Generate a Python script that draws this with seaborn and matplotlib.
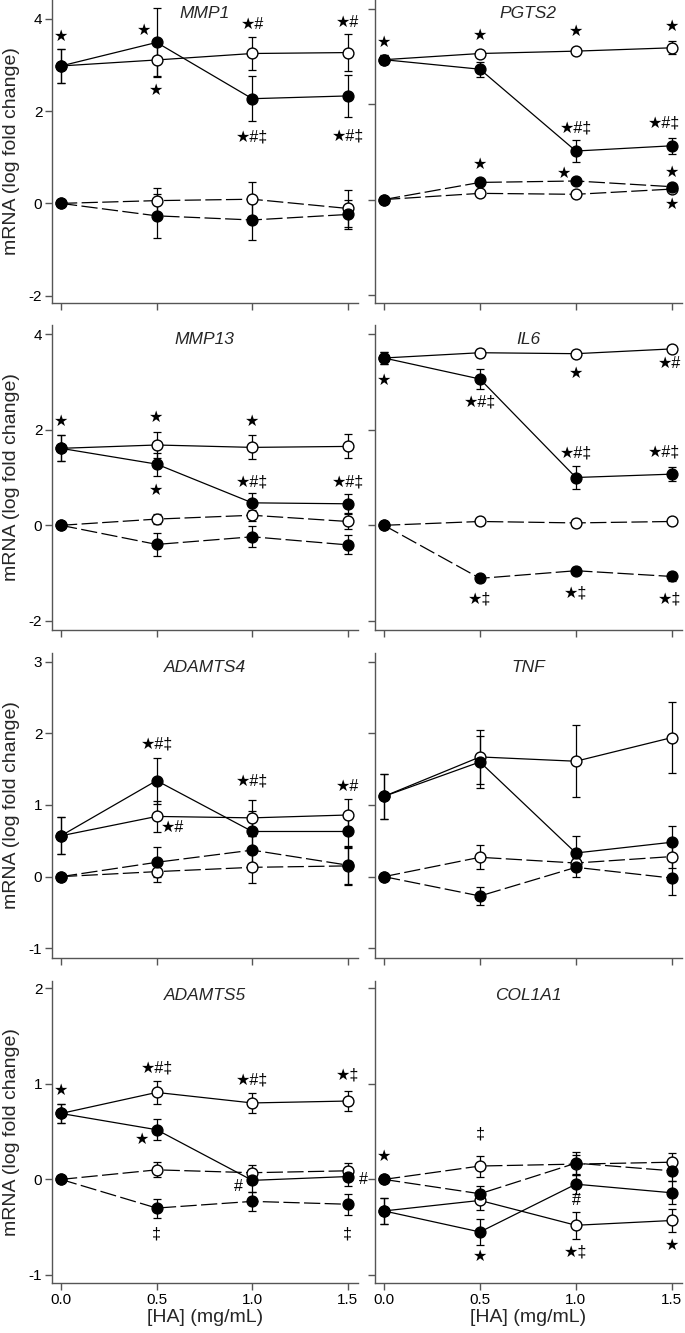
import matplotlib
matplotlib.use('Agg')
import pandas as pd
import seaborn as sns
import matplotlib.pyplot as plt

# HA concentrations (mg/mL)
ha_conc = [0.0, 0.5, 1.0, 1.5]
genes = ['MMP1', 'PGTS2', 'MMP13', 'IL6', 'ADAMTS4', 'TNF', 'ADAMTS5', 'COL1A1']
# series order in every array below: solid/filled, solid/open, dashed/filled, dashed/open
series = ['solid_filled', 'solid_open', 'dashed_filled', 'dashed_open']

mmp1_mean = [[2.98, 3.49, 2.27, 2.33], [2.98, 3.11, 3.25, 3.27],
             [0.0, -0.27, -0.36, -0.24], [0.0, 0.06, 0.09, -0.11]]
mmp1_err = [[0.36, 0.75, 0.49, 0.45], [0.36, 0.35, 0.35, 0.40],
            [0.0, 0.48, 0.44, 0.32], [0.0, 0.28, 0.37, 0.40]]

pgts2_mean = [[2.94, 2.74, 1.02, 1.13], [2.94, 3.07, 3.12, 3.19],
              [0.0, 0.36, 0.39, 0.27], [0.0, 0.13, 0.11, 0.22]]
pgts2_err = [[0.10, 0.16, 0.24, 0.17], [0.10, 0.05, 0.05, 0.14],
             [0.0, 0.07, 0.05, 0.05], [0.0, 0.05, 0.04, 0.05]]

mmp13_mean = [[1.61, 1.28, 0.47, 0.45], [1.61, 1.68, 1.63, 1.65],
              [0.0, -0.40, -0.24, -0.41], [0.0, 0.13, 0.21, 0.08]]
mmp13_err = [[0.27, 0.24, 0.20, 0.20], [0.27, 0.28, 0.25, 0.25],
             [0.0, 0.24, 0.22, 0.20], [0.0, 0.10, 0.12, 0.15]]

il6_mean = [[3.50, 3.06, 1.00, 1.07], [3.50, 3.61, 3.59, 3.69],
            [0.0, -1.11, -0.95, -1.07], [0.0, 0.08, 0.05, 0.08]]
il6_err = [[0.13, 0.20, 0.25, 0.14], [0.13, 0.08, 0.07, 0.06],
           [0.0, 0.08, 0.07, 0.10], [0.0, 0.07, 0.08, 0.04]]

adamts4_mean = [[0.57, 1.34, 0.63, 0.63], [0.57, 0.84, 0.82, 0.86],
                [0.0, 0.20, 0.37, 0.16], [0.0, 0.07, 0.13, 0.15]]
adamts4_err = [[0.26, 0.32, 0.28, 0.22], [0.26, 0.22, 0.25, 0.22],
               [0.0, 0.21, 0.20, 0.27], [0.0, 0.15, 0.22, 0.25]]

tnf_mean = [[1.12, 1.60, 0.33, 0.48], [1.12, 1.67, 1.61, 1.94],
            [0.0, -0.27, 0.13, -0.02], [0.0, 0.27, 0.19, 0.28]]
tnf_err = [[0.31, 0.36, 0.24, 0.23], [0.31, 0.38, 0.50, 0.50],
           [0.0, 0.12, 0.13, 0.24], [0.0, 0.17, 0.08, 0.16]]

adamts5_mean = [[0.69, 0.52, -0.01, 0.03], [0.69, 0.91, 0.80, 0.82],
                [0.0, -0.30, -0.23, -0.26], [0.0, 0.10, 0.07, 0.09]]
adamts5_err = [[0.10, 0.11, 0.12, 0.10], [0.10, 0.12, 0.10, 0.10],
               [0.0, 0.10, 0.10, 0.11], [0.0, 0.08, 0.08, 0.08]]

col1a1_mean = [[-0.33, -0.55, -0.05, -0.14], [-0.33, -0.22, -0.48, -0.43],
               [0.0, -0.15, 0.17, 0.09], [0.0, 0.14, 0.16, 0.18]]
col1a1_err = [[0.14, 0.14, 0.10, 0.12], [0.14, 0.10, 0.14, 0.12],
              [0.0, 0.08, 0.12, 0.11], [0.0, 0.11, 0.10, 0.10]]

# significance marks: (HA, value, text)
marks = {
    'MMP1': [(0.0, 3.62, '★'), (0.435, 3.75, '★'), (0.5, 2.46, '★'), (1.0, 3.89, '★#'),
             (1.0, 1.45, '★#‡'), (1.5, 3.92, '★#'), (1.5, 1.46, '★#‡')],
    'PGTS2': [(0.0, 3.31, '★'), (0.5, 3.45, '★'), (1.0, 3.54, '★'), (1.5, 3.64, '★'),
              (1.0, 1.51, '★#‡'), (1.46, 1.61, '★#‡'), (0.5, 0.74, '★'), (0.94, 0.55, '★'),
              (1.5, 0.56, '★'), (1.5, -0.10, '★')],
    'MMP13': [(0.0, 2.17, '★'), (0.5, 2.26, '★'), (0.5, 0.73, '★'), (1.0, 2.18, '★'),
              (1.0, 0.90, '★#‡'), (1.5, 0.90, '★#‡')],
    'IL6': [(0.0, 3.03, '★'), (0.5, 2.58, '★#‡'), (1.0, 3.18, '★'), (1.49, 3.38, '★#'),
            (1.0, 1.51, '★#‡'), (1.46, 1.53, '★#‡'), (0.5, -1.54, '★‡'), (1.0, -1.42, '★‡'),
            (1.49, -1.54, '★‡')],
    'ADAMTS4': [(0.5, 1.85, '★#‡'), (0.585, 0.69, '★#'), (1.0, 1.34, '★#‡'), (1.5, 1.26, '★#')],
    'TNF': [],
    'ADAMTS5': [(0.0, 0.93, '★'), (0.5, 1.17, '★#‡'), (0.425, 0.42, '★'), (1.0, 1.04, '★#‡'),
                (1.5, 1.09, '★‡'), (0.93, -0.07, '#'), (1.58, 0.0, '#'), (0.5, -0.57, '‡'),
                (1.5, -0.57, '‡')],
    'COL1A1': [(0.0, 0.24, '★'), (0.5, 0.47, '‡'), (0.5, -0.81, '★'), (1.0, -0.22, '#'),
               (1.0, -0.76, '★‡'), (1.5, -0.69, '★')],
}

means = [mmp1_mean, pgts2_mean, mmp13_mean, il6_mean, adamts4_mean, tnf_mean, adamts5_mean, col1a1_mean]
errs = [mmp1_err, pgts2_err, mmp13_err, il6_err, adamts4_err, tnf_err, adamts5_err, col1a1_err]

rows = []
for g, m, e in zip(genes, means, errs):
    for s, mv, ev in zip(series, m, e):
        for x, a, b in zip(ha_conc, mv, ev):
            rows.append({'gene': g, 'series': s, 'ha': x, 'mean': a, 'err': b})
df = pd.DataFrame(rows)

sns.set_style('ticks')
plt.rcParams['font.family'] = ['Liberation Sans', 'DejaVu Sans']
plt.rcParams['axes.edgecolor'] = '#555555'

W, H = 685, 1333
fig = plt.figure(figsize=(W / 100, H / 100), dpi=100)

# pixel layout: (top, bottom) per row, (left, right) per column
row_px = [(0, 303), (325, 630), (653, 958), (981, 1283)]
col_px = [(52, 358), (375, 682)]
ylims = [(-2.16, 4.41), (-2.175, 4.195), (-2.19, 4.19), (-2.19, 4.19),
         (-1.135, 3.12), (-1.135, 3.12), (-1.084, 2.076), (-1.084, 2.076)]
yticks = [[-2, 0, 2, 4], [-2, 0, 2, 4], [-1, 0, 1, 2, 3], [-1, 0, 1, 2]]

line_style = {'solid_filled': '-', 'solid_open': '-',
              'dashed_filled': (0, (13, 3.5)), 'dashed_open': (0, (13, 3.5))}
face = {'solid_filled': 'black', 'solid_open': 'white',
        'dashed_filled': 'black', 'dashed_open': 'white'}
draw_order = ['solid_open', 'dashed_open', 'solid_filled', 'dashed_filled']

for i, gene in enumerate(genes):
    r, c = divmod(i, 2)
    top, bot = row_px[r]
    left, right = col_px[c]
    ax = fig.add_axes([left / W, 1 - bot / H, (right - left) / W, (bot - top) / H])
    sub = df[df.gene == gene]
    for s in draw_order:
        d = sub[sub.series == s]
        ax.errorbar(d['ha'], d['mean'], yerr=d['err'], fmt='none', ecolor='black',
                    elinewidth=0.9, capsize=3, capthick=0.9, zorder=2)
        sns.lineplot(data=d, x='ha', y='mean', ax=ax, color='black', lw=0.9,
                     linestyle=line_style[s], marker='o', markersize=7.8,
                     markerfacecolor=face[s], markeredgecolor='black',
                     markeredgewidth=1.0, errorbar=None, legend=False, zorder=3)
    for x, y, t in marks[gene]:
        ax.text(x, y, t, ha='center', va='center', fontsize=11.5, color='black', zorder=4)
    ax.text(0.75, 1 - 14 / (bot - top), gene, transform=ax.get_xaxis_transform(),
            ha='center', va='center', fontsize=12.5, style='italic')

    ax.set_xlim(-0.047, 1.553)
    ax.set_ylim(*ylims[i])
    ax.set_xticks(ha_conc)
    ax.set_yticks(yticks[r])
    sns.despine(ax=ax)
    for sp in ['left', 'bottom']:
        ax.spines[sp].set_linewidth(1.0)
        ax.spines[sp].set_color('#555555')
    ax.tick_params(direction='out', length=5, width=1.0, color='#555555',
                   labelsize=11, pad=2, labelcolor='black')
    if r == 3:
        ax.set_xticklabels(['0.0', '0.5', '1.0', '1.5'])
        ax.set_xlabel('[HA] (mg/mL)', fontsize=14, labelpad=2)
    else:
        ax.set_xticklabels([])
        ax.set_xlabel('')
    if c == 0:
        ax.set_yticklabels([str(v) for v in yticks[r]])
        ax.set_ylabel('mRNA (log fold change)', fontsize=14)
        ax.yaxis.set_label_coords(-0.105, 0.5)
    else:
        ax.set_yticklabels([])
        ax.set_ylabel('')

fig.savefig('out.png', dpi=100)
